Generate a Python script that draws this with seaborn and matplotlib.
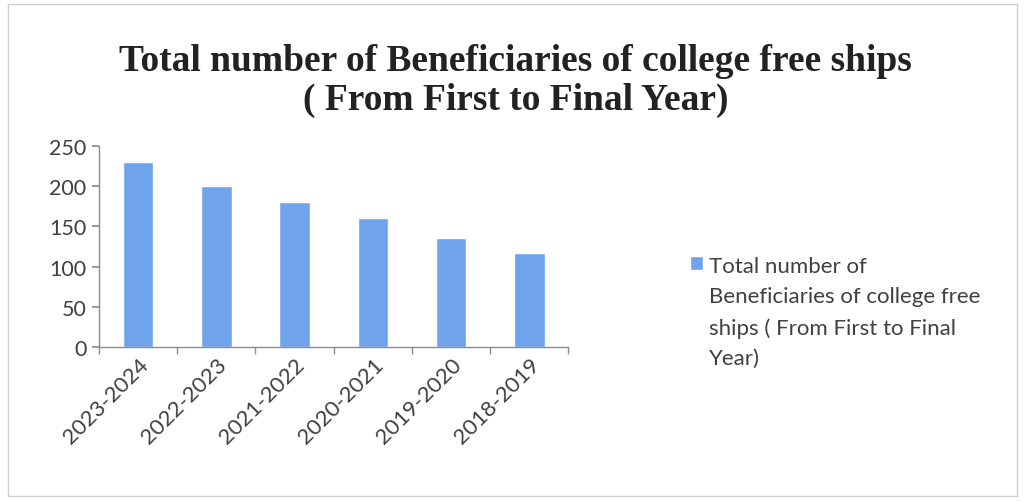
import numpy as np
import pandas as pd
import matplotlib
matplotlib.use("Agg")
import matplotlib.pyplot as plt
import seaborn as sns
from matplotlib.patches import Rectangle

# data
years = ["2023-2024", "2022-2023", "2021-2022", "2020-2021", "2019-2020", "2018-2019"]
beneficiaries = [230, 200, 180, 160, 135, 117]
series_name = "Total number of Beneficiaries of college free ships ( From First to Final Year)"
legend_label = "Total number of\nBeneficiaries of college free\nships ( From First to Final\nYear)"
title = "Total number of Beneficiaries of college free ships\n( From First to Final Year)"

sns.set_theme(style="white")
plt.rcParams["font.family"] = ["Lato", "DejaVu Sans"]

df = pd.DataFrame({"year": years, "value": beneficiaries, "series": series_name})

fig = plt.figure(figsize=(10.25, 5.02), dpi=100)
ax = fig.add_axes([0.0966, 0.307, 0.458, 0.400])

bar_color = "#6FA3EC"
sns.barplot(data=df, x="year", y="value", hue="series", palette=[bar_color],
            width=0.39, ax=ax, saturation=1, legend=True)

ax.set_ylim(0, 250)
ax.set_xlim(-0.5, len(years) - 0.5)
ax.set_yticks([0, 50, 100, 150, 200, 250])
ax.set_xlabel("")
ax.set_ylabel("")

for s in ["top", "right"]:
    ax.spines[s].set_visible(False)
for s in ["left", "bottom"]:
    ax.spines[s].set_color("#8c8c8c")
    ax.spines[s].set_linewidth(1.0)

ax.tick_params(axis="y", which="major", length=5, color="#8c8c8c", labelsize=15.5,
               labelcolor="#404040", left=True, pad=4)
ax.tick_params(axis="x", which="major", length=0, labelsize=16, labelcolor="#404040", pad=5)
ax.set_xticks(np.arange(-0.5, len(years)), minor=True)
ax.tick_params(axis="x", which="minor", length=5, color="#8c8c8c", bottom=True)
for lab in ax.get_xticklabels():
    lab.set_rotation(45)
    lab.set_ha("right")
    lab.set_rotation_mode("anchor")

fig.suptitle(title, x=0.503, y=0.912, fontsize=27, fontweight="bold",
             family=["Liberation Serif", "DejaVu Serif"], color="#222222",
             linespacing=1.15)

h, _ = ax.get_legend_handles_labels()
leg = ax.legend(h, [legend_label], loc="upper left", bbox_to_anchor=(1.24, 0.495),
                frameon=False, fontsize=16, handlelength=0.6, handleheight=0.6,
                handletextpad=0.25, labelspacing=0.0, borderaxespad=0)
for t in leg.get_texts():
    t.set_color("#404040")
    t.set_linespacing(1.63)
# keep the swatch level with the first line of text
for col in leg._legend_handle_box.get_children():
    for row in col.get_children():
        row.align = "top"

fig.patches.append(Rectangle((0.008, 0.01), 0.984, 0.98, transform=fig.transFigure,
                             fill=False, edgecolor="#d0d0d0", linewidth=1.0))

fig.savefig("out.png", dpi=100)
